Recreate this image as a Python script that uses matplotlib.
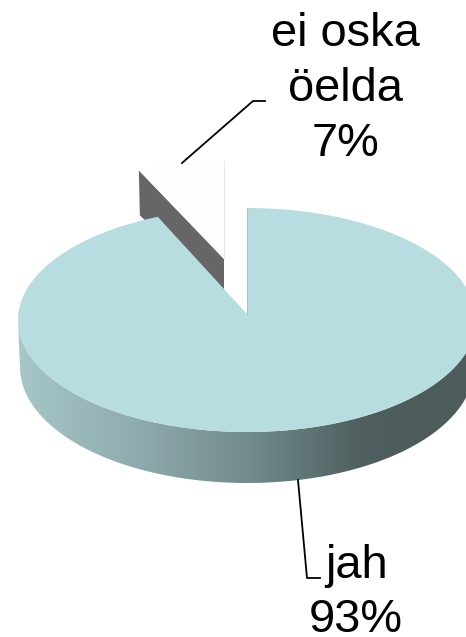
import numpy as np
import matplotlib
matplotlib.use("Agg")
import matplotlib.pyplot as plt
from matplotlib.colors import LinearSegmentedColormap
from matplotlib.patches import Polygon

# data
labels = ["jah", "ei oska\nöelda"]
values = [93, 7]

plt.rcParams["font.family"] = ["Liberation Sans", "DejaVu Sans"]

# pie geometry in pixels
cx, cy, rx, ry = 247, 320, 229, 112
apex_y = 314
bx, by, brx, bry = 247, 367, 227, 116
sx, sy, srx, sry = 224, 259, 200, 98
depth_apex, depth_edge = 36, 45
notch_squeeze = 0.91  # perspective makes the gap look narrower than the slice

main_colour = "#b8dde1"
slice_colour = "#fdfdfd"
side_dark = "#666666"

fig = plt.figure(figsize=(4.66, 6.37), dpi=100)
ax = fig.add_axes([0, 0, 1, 1])
ax.set_xlim(0, 466)
ax.set_ylim(637, 0)
ax.axis("off")


def arc(x0, y0, a, b, t1, t2, n=200):
    # angles in degrees, counted anticlockwise from the right
    t = np.radians(np.linspace(t1, t2, n))
    return np.column_stack([x0 + a * np.cos(t), y0 - b * np.sin(t)])


slice_deg = 360 * values[1] / sum(values)
start = 90
end = start + slice_deg

# exploded slice, behind the big one
slice_arc = arc(sx, sy, srx, sry, start, end)
left_pt = slice_arc[-1]
ax.add_patch(Polygon([left_pt, (sx, sy), (sx, sy + depth_apex),
                      (left_pt[0] + 1, left_pt[1] + depth_edge)],
                     closed=True, fc=side_dark, ec="none", zorder=1))
ax.add_patch(Polygon(np.vstack([[(sx, sy)], slice_arc]), closed=True,
                     fc=slice_colour, ec="none", zorder=2))
ax.plot([sx, sx], [sy, slice_arc[0][1]], color="#e4e4e4", lw=0.6, zorder=2)

# side wall of the big slice with its gradient
side_cmap = LinearSegmentedColormap.from_list(
    "side", [(0, "#a6c6c8"), (0.25, "#90acae"), (0.5, "#738c8d"),
             (0.68, "#586c6c"), (0.75, "#4f5e5e"), (1, "#4d5b5a")])
wall = np.vstack([arc(cx, cy, rx, ry, 180, 360),
                  arc(bx, by, brx, bry, 360, 180)])
wall_patch = Polygon(wall, closed=True, fc="none", ec="none", zorder=3)
ax.add_patch(wall_patch)
im = ax.imshow(np.linspace(0, 1, 466)[None, :], extent=(18, 476, 637, 0),
               cmap=side_cmap, aspect="auto", zorder=3)
im.set_clip_path(wall_patch)
ax.set_xlim(0, 466)
ax.set_ylim(637, 0)

# top face of the big slice
main_end = start + slice_deg * notch_squeeze
face = np.vstack([[(cx, apex_y)], arc(cx, cy, rx, ry, main_end, start + 360, 500)])
ax.add_patch(Polygon(face, closed=True, fc=main_colour, ec="none", zorder=4))
ax.plot([cx, cx], [apex_y, cy - ry], color="#a9b5b6", lw=0.5, zorder=4)

# leader lines
ax.plot([182, 253, 265], [163, 101, 101], color="black", lw=1.3, zorder=5)
ax.plot([298, 307, 320], [480, 578, 578], color="black", lw=1.3, zorder=5)

# labels
ax.text(345, 156, f"{labels[1]}\n{values[1]}%", fontsize=33.8, ha="center",
        va="baseline", linespacing=1.33, color="black", zorder=6)
ax.text(356, 632, f"{labels[0]}\n{values[0]}%", fontsize=33.8, ha="center",
        va="baseline", linespacing=1.28, color="black", zorder=6)

fig.savefig("out.png", dpi=100)
